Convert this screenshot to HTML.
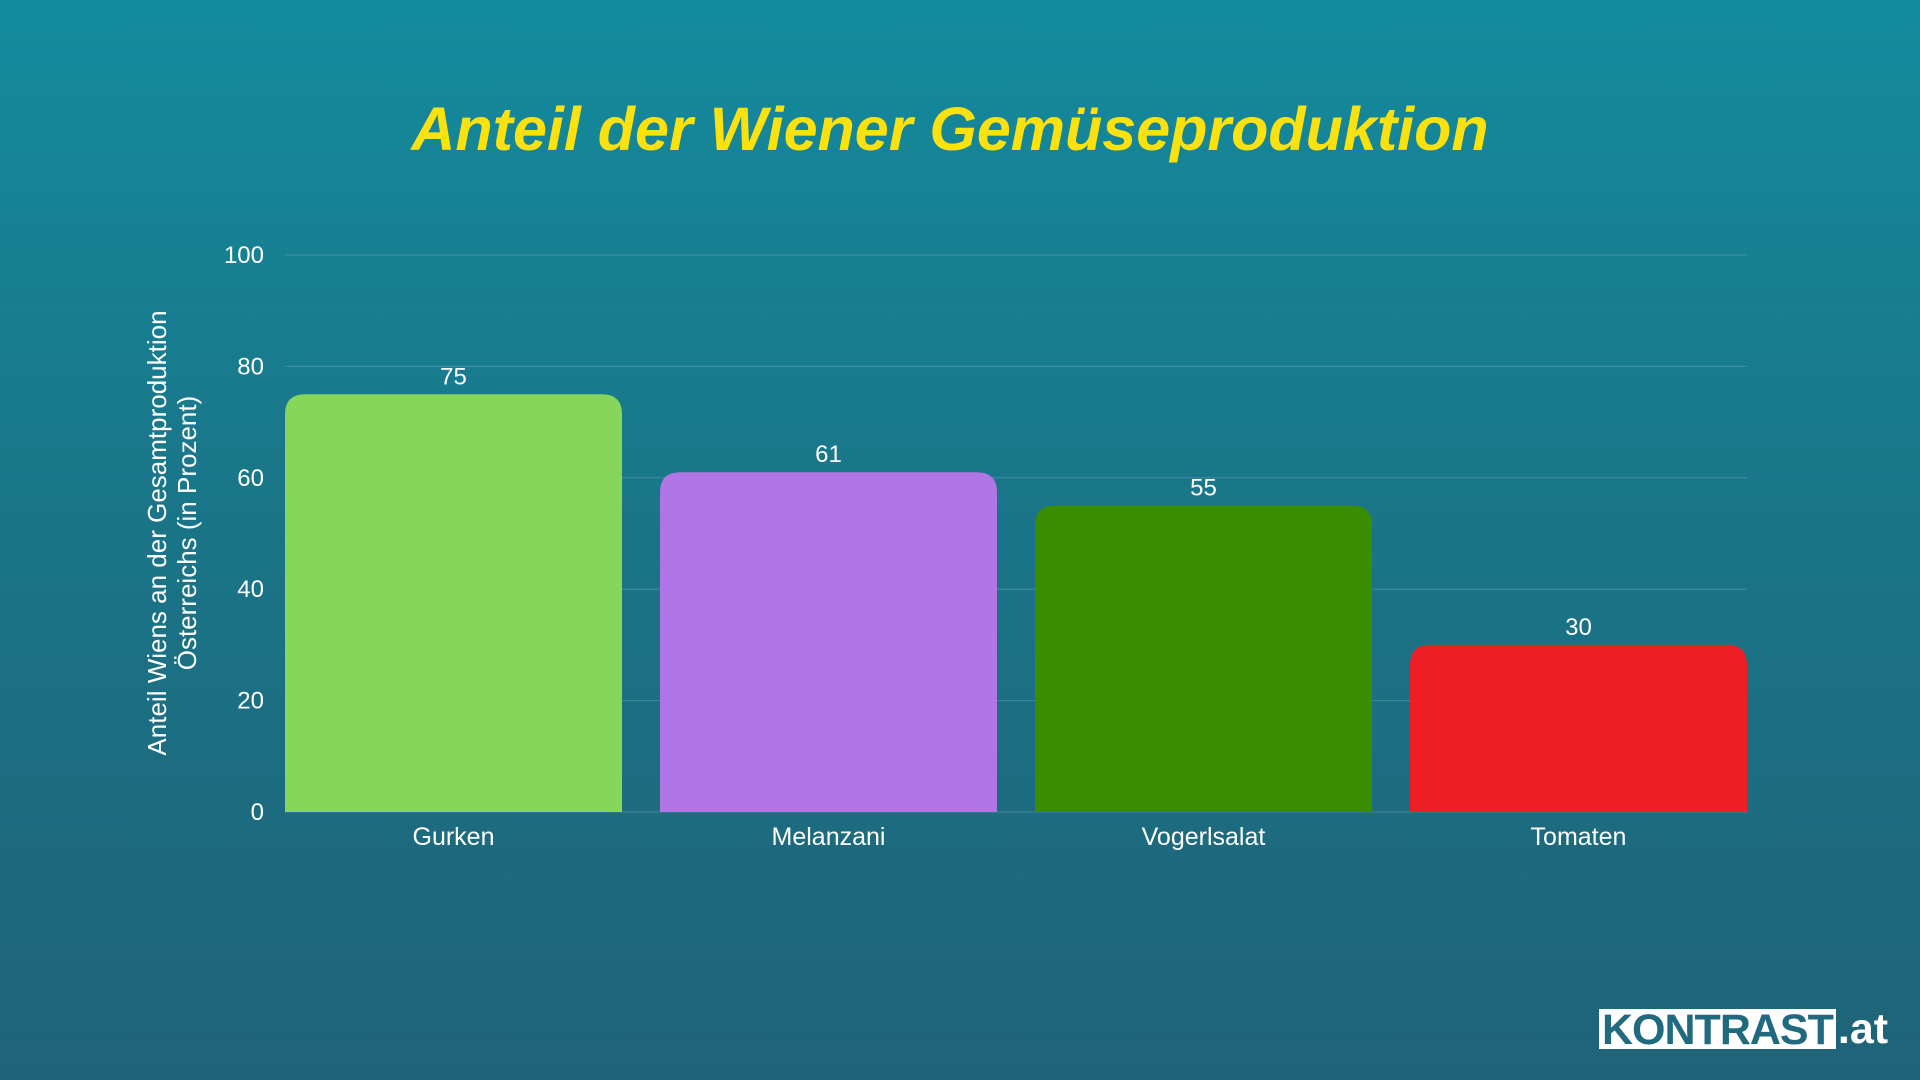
<!DOCTYPE html>
<html><head><meta charset="utf-8"><style>
html,body{margin:0;padding:0}
body{width:1920px;height:1080px;overflow:hidden;background:linear-gradient(180deg,#138b9e 0%,#1a7689 45%,#1f6378 100%);font-family:"Liberation Sans",sans-serif;position:relative}
#title{position:absolute;left:0;width:1900px;top:94px;text-align:center;color:#fbe10f;font-style:italic;font-weight:bold;font-size:61px}
#logo{position:absolute;left:1599px;top:1009px;height:40px;display:flex;align-items:center}
#logo .box{background:#fff;color:#1f6a7e;font-weight:bold;font-size:43px;height:40px;line-height:42px;padding:0 3px;letter-spacing:-1px}
#logo .at{color:#fff;font-weight:bold;font-size:43px;margin-left:2px}
</style></head><body>
<div id="title">Anteil der Wiener Gemüseproduktion</div>
<svg id="chart" width="1920" height="1080" style="position:absolute;left:0;top:0"></svg>
<div id="logo"><span class="box">KONTRAST</span><span class="at">.at</span></div>
<script>
const categories=["Gurken","Melanzani","Vogerlsalat","Tomaten"];
const values=[75,61,55,30];
const colors=["#85d65b","#b176e5","#3a8c00","#ee1e27"];
const yTicks=[0,20,40,60,80,100];
const svg=document.getElementById('chart');
const NS='http://www.w3.org/2000/svg';
const x0=285,x1=1747,y0=812,y1=255;
const yScale=v=>y0-(v/100)*(y0-y1);
const gap=38, n=categories.length, bw=(x1-x0-gap*(n-1))/n;
function mk(t,a){const e=document.createElementNS(NS,t);for(const k in a)e.setAttribute(k,a[k]);svg.appendChild(e);return e;}
yTicks.forEach(t=>{
  const g=mk('line',{x1:x0,x2:x1,y1:yScale(t),y2:yScale(t),stroke:'rgba(255,255,255,0.18)','stroke-width':1});
  
  
  const l=mk('text',{x:264,y:yScale(t)+8,'text-anchor':'end',fill:'#fff','font-size':24,'font-family':'Liberation Sans, sans-serif'});
  l.textContent=t;
  
  
});
categories.forEach((c,i)=>{
  const bx=x0+i*(bw+gap), by=yScale(values[i]), r=20;
  const p=mk('path',{d:`M${bx},${y0}V${by+r}Q${bx},${by} ${bx+r},${by}H${bx+bw-r}Q${bx+bw},${by} ${bx+bw},${by+r}V${y0}Z`,fill:colors[i]});
  
  
  const v=mk('text',{x:bx+bw/2,y:by-10,'text-anchor':'middle',fill:'#fff','font-size':24,'font-family':'Liberation Sans, sans-serif'});
  v.textContent=values[i];
  
  
  const cl=mk('text',{x:bx+bw/2,y:845,'text-anchor':'middle',fill:'#fff','font-size':25,'font-family':'Liberation Sans, sans-serif'});
  cl.textContent=c;
  
  
});
const yt=mk('text',{transform:'translate(174,533) rotate(-90)','text-anchor':'middle',fill:'#fff','font-size':26,'font-family':'Liberation Sans, sans-serif'});


const t1=document.createElementNS(NS,'tspan');t1.setAttribute('x',0);t1.setAttribute('dy',-8);t1.textContent='Anteil Wiens an der Gesamtproduktion';yt.appendChild(t1);
const t2=document.createElementNS(NS,'tspan');t2.setAttribute('x',0);t2.setAttribute('dy',30);t2.textContent='Österreichs (in Prozent)';yt.appendChild(t2);
</script>
</body></html>
